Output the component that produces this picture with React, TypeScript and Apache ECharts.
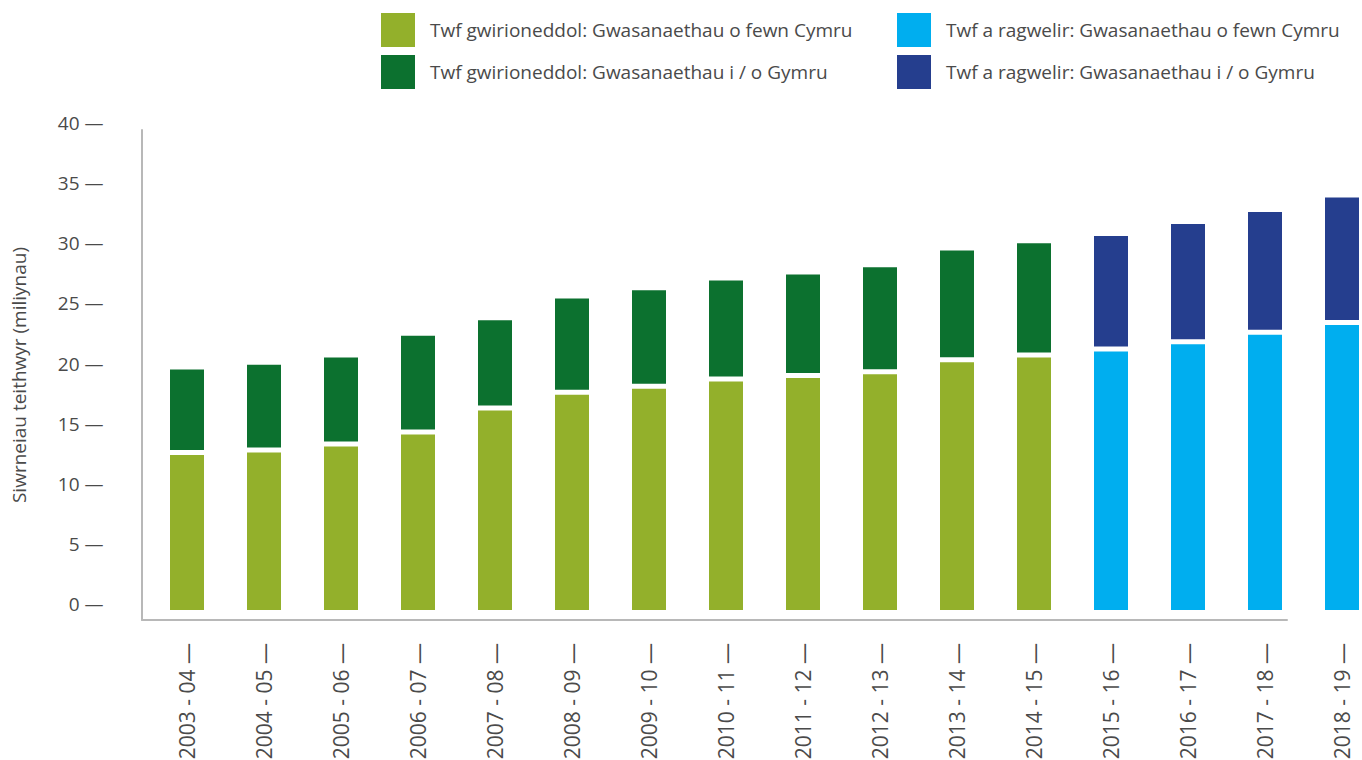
import React, { useEffect, useRef } from "react";
import * as echarts from "echarts";

const categories = [
  "2003 - 04", "2004 - 05", "2005 - 06", "2006 - 07", "2007 - 08", "2008 - 09",
  "2009 - 10", "2010 - 11", "2011 - 12", "2012 - 13", "2013 - 14", "2014 - 15",
  "2015 - 16", "2016 - 17", "2017 - 18", "2018 - 19",
];
// Journeys within Wales (millions)
const insideWales = [12.4, 12.6, 13.1, 14.1, 16.1, 17.4, 17.9, 18.5, 18.8, 19.1, 20.1, 20.5, 21.0, 21.6, 22.4, 23.2];
// Journeys to / from Wales (millions), stacked on top
const crossBorder = [7.1, 7.3, 7.4, 8.2, 7.5, 8.0, 8.2, 8.4, 8.6, 8.9, 9.3, 9.5, 9.6, 10.0, 10.2, 10.6];
// first forecast category index
const forecastStart = 12;
const yTicks = [0, 5, 10, 15, 20, 25, 30, 35, 40];

const NAMES = {
  actIn: "Twf gwirioneddol: Gwasanaethau o fewn Cymru",
  actX: "Twf gwirioneddol: Gwasanaethau i / o Gymru",
  fcIn: "Twf a ragwelir: Gwasanaethau o fewn Cymru",
  fcX: "Twf a ragwelir: Gwasanaethau i / o Gymru",
};
const COLORS = {
  actIn: "#93B02B",
  actX: "#0C712F",
  fcIn: "#00AEEF",
  fcX: "#253E8E",
};

const FONT = "'Open Sans', 'Noto Sans', sans-serif";
const TEXT = "#4a4a4a";
const BAR_W = 34;
const BOTTOM_EXT = 6;
const GAP = 5;

function makeSeries(key: keyof typeof COLORS, part: "in" | "x", forecast: boolean) {
  const data: number[][] = [];
  categories.forEach((_, i) => {
    const isF = i >= forecastStart;
    if (isF !== forecast) return;
    if (part === "in") data.push([i, 0, insideWales[i]]);
    else data.push([i, insideWales[i], insideWales[i] + crossBorder[i]]);
  });
  return {
    type: "custom",
    name: NAMES[key],
    xAxisIndex: 0,
    yAxisIndex: 0,
    itemStyle: { color: COLORS[key] },
    encode: { x: 0, y: [1, 2] },
    data,
    clip: false,
    renderItem: (params: any, api: any) => {
      const i = api.value(0);
      const lo = api.coord([i, api.value(1)]);
      const hi = api.coord([i, api.value(2)]);
      const bottom = part === "in" ? lo[1] + BOTTOM_EXT : lo[1] - GAP;
      return {
        type: "rect",
        shape: { x: hi[0] - BAR_W / 2, y: hi[1], width: BAR_W, height: bottom - hi[1] },
        style: { fill: COLORS[key] },
      };
    },
  };
}

export default function App() {
  const ref = useRef<HTMLDivElement>(null);
  useEffect(() => {
    if (!ref.current) return;
    const chart = echarts.init(ref.current, undefined, { renderer: "svg" });
    const legendCommon = {
      orient: "vertical",
      top: 13,
      padding: 0,
      itemWidth: 34,
      itemHeight: 34,
      itemGap: 8,
      icon: "rect",
      selectedMode: false,
      textStyle: { fontSize: 19, color: TEXT, fontFamily: FONT, padding: [0, 0, 0, 10] },
    };
    chart.setOption({
      animation: false,
      textStyle: { fontFamily: FONT },
      legend: [
        { ...legendCommon, left: 381, data: [NAMES.actIn, NAMES.actX] },
        { ...legendCommon, left: 897, data: [NAMES.fcIn, NAMES.fcX] },
      ],
      grid: [
        { left: 148.5, width: 1232, top: 123, height: 481, outerBoundsMode: "none", containLabel: false },
        { left: 142, width: 1145, top: 130, height: 490, outerBoundsMode: "none", containLabel: false },
      ],
      xAxis: [
        {
          type: "category",
          gridIndex: 0,
          data: categories,
          boundaryGap: true,
          axisLine: { show: false },
          axisTick: { show: false },
          axisLabel: {
            rotate: 90,
            interval: 0,
            margin: 39,
            fontSize: 21,
            color: TEXT,
            fontFamily: FONT,
            formatter: (v: string) => `${v} —`,
          },
        },
        {
          type: "value",
          gridIndex: 1,
          min: 0,
          max: 1,
          axisLine: { show: true, onZero: false, lineStyle: { color: "#b8b8b8", width: 2 } },
          axisTick: { show: false },
          axisLabel: { show: false },
          splitLine: { show: false },
        },
      ],
      yAxis: [
        {
          type: "value",
          gridIndex: 0,
          min: 0,
          max: 40,
          interval: 5,
          axisLine: { show: false },
          axisTick: { show: false },
          splitLine: { show: false },
          axisLabel: {
            margin: 45,
            fontSize: 19,
            color: TEXT,
            fontFamily: FONT,
            customValues: yTicks,
            formatter: (v: number) => `${v} —`,
          },
        },
        {
          type: "value",
          gridIndex: 1,
          min: 0,
          max: 1,
          name: "Siwrneiau teithwyr (miliynau)",
          nameLocation: "middle",
          nameRotate: 90,
          nameGap: 114,
          nameTextStyle: { fontSize: 19, color: TEXT, fontFamily: FONT },
          axisLine: { show: true, onZero: false, lineStyle: { color: "#b8b8b8", width: 2 } },
          axisTick: { show: false },
          axisLabel: { show: false },
          splitLine: { show: false },
        },
      ],
      series: [
        makeSeries("actIn", "in", false),
        makeSeries("actX", "x", false),
        makeSeries("fcIn", "in", true),
        makeSeries("fcX", "x", true),
      ],
    });
    return () => chart.dispose();
  }, []);
  return (
    <div
      ref={ref}
      style={{ position: "fixed", left: 0, top: 0, width: 1362, height: 760, background: "#fff" }}
    />
  );
}
